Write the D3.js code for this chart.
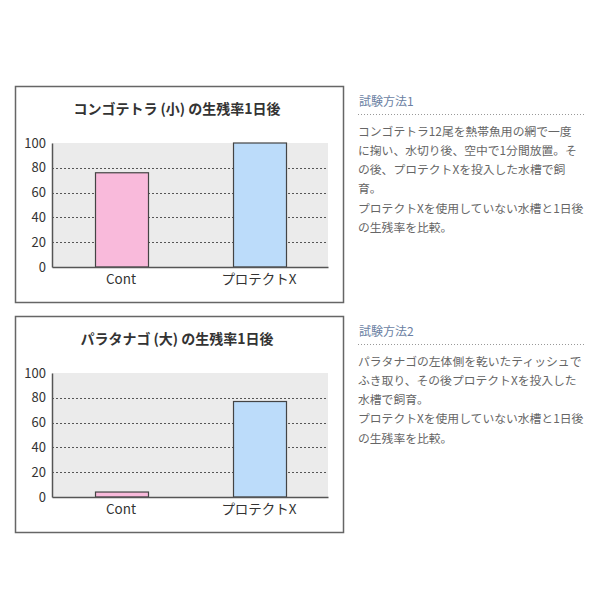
<!DOCTYPE html>
<html><head><meta charset="utf-8">
<script src="https://cdn.jsdelivr.net/npm/d3@7"></script>
<style>
body{margin:0;background:#fff;}
svg text{font-family:"Noto Sans CJK JP","Noto Sans",sans-serif;}
</style></head><body>
<svg id="c" width="600" height="600"></svg>
<script>
const categories = ["Cont", "プロテクトX"];
const values1 = [76, 100];
const values2 = [4, 77];
const titles = ["コンゴテトラ (小) の生残率1日後", "パラタナゴ (大) の生残率1日後"];
const yTicks = [0, 20, 40, 60, 80, 100];
const headings = ["試験方法1", "試験方法2"];
const notes1 = ["コンゴテトラ12尾を熱帯魚用の網で一度", "に掬い、水切り後、空中で1分間放置。そ", "の後、プロテクトXを投入した水槽で飼", "育。", "プロテクトXを使用していない水槽と1日後", "の生残率を比較。"];
const notes2 = ["パラタナゴの左体側を乾いたティッシュで", "ふき取り、その後プロテクトXを投入した", "水槽で飼育。", "プロテクトXを使用していない水槽と1日後", "の生残率を比較。"];
const barColors = ["#f9badb", "#bcdcfa"];

const svg = d3.select("#c");

function panel(top, title, values, heading, notes) {
  const g = svg.append("g").attr("transform", `translate(0,${top})`);
  g.append("rect").attr("x", 15.5).attr("y", 0.5).attr("width", 328).attr("height", 216)
    .attr("fill", "#fff").attr("stroke", "#666").attr("stroke-width", 1.5);
  g.append("text").attr("x", 177).attr("y", 22).attr("text-anchor", "middle")
    .attr("dominant-baseline", "central").attr("font-size", 14).attr("font-weight", "bold")
    .attr("fill", "#333").text(title);
  const x0 = 52, x1 = 328, yTop = 57, yBot = 181;
  const x = d3.scaleBand().domain(categories).range([x0, x1]).paddingInner(0.616).paddingOuter(0.308);
  const y = d3.scaleLinear().domain([0, 100]).range([yBot, yTop]);
  g.append("rect").attr("x", x0).attr("y", y(100)).attr("width", x1 - x0).attr("height", y(0) - y(100)).attr("fill", "#ebebeb");
  g.append("g").selectAll("line").data(yTicks.filter(d => d > 0 && d < 100)).join("line")
    .attr("x1", x0).attr("x2", x1).attr("y1", d => Math.round(y(d)) + 0.5).attr("y2", d => Math.round(y(d)) + 0.5)
    .attr("stroke", "#555").attr("stroke-dasharray", "2,2");
  g.append("g").selectAll("rect").data(values).join("rect")
    .attr("x", (d, i) => Math.round(x(categories[i])) + 0.5).attr("y", d => y(d))
    .attr("width", Math.round(x.bandwidth())).attr("height", d => y(0) - y(d))
    .attr("fill", (d, i) => barColors[i]).attr("stroke", "#444").attr("stroke-width", 1.2);
  const ya = g.append("g").attr("transform", `translate(${x0},0)`)
    .call(d3.axisLeft(y).tickValues(yTicks).tickSize(0).tickPadding(6));
  ya.select(".domain").attr("stroke", "#555").attr("stroke-width", 1.5);
  ya.selectAll("text").attr("font-size", 13).attr("fill", "#333").attr("font-family", "'Noto Sans CJK JP',sans-serif");
  const xa = g.append("g").attr("transform", `translate(0,${yBot})`)
    .call(d3.axisBottom(x).tickSize(0).tickPadding(7));
  xa.select(".domain").attr("stroke", "#555").attr("stroke-width", 1.5);
  xa.selectAll("text").attr("font-size", 13.5).attr("fill", "#333").attr("font-family", "'Noto Sans CJK JP',sans-serif");

  const t = svg.append("g").attr("transform", `translate(358,${top})`);
  t.append("text").attr("x", 1).attr("y", 14).attr("dominant-baseline", "central")
    .attr("font-size", 12).attr("fill", "#6b7fa3").text(heading);
  t.append("line").attr("x1", 0).attr("x2", 227).attr("y1", 28.5).attr("y2", 28.5)
    .attr("stroke", "#999").attr("stroke-dasharray", "1,2");
  t.selectAll("text.n").data(notes).join("text").attr("class", "n")
    .attr("x", 0).attr("y", (d, i) => 44 + i * 19.3).attr("dominant-baseline", "central")
    .attr("font-size", 11.8).attr("fill", "#666").text(d => d);
}
panel(86, titles[0], values1, headings[0], notes1);
panel(316, titles[1], values2, headings[1], notes2);
</script></body></html>
